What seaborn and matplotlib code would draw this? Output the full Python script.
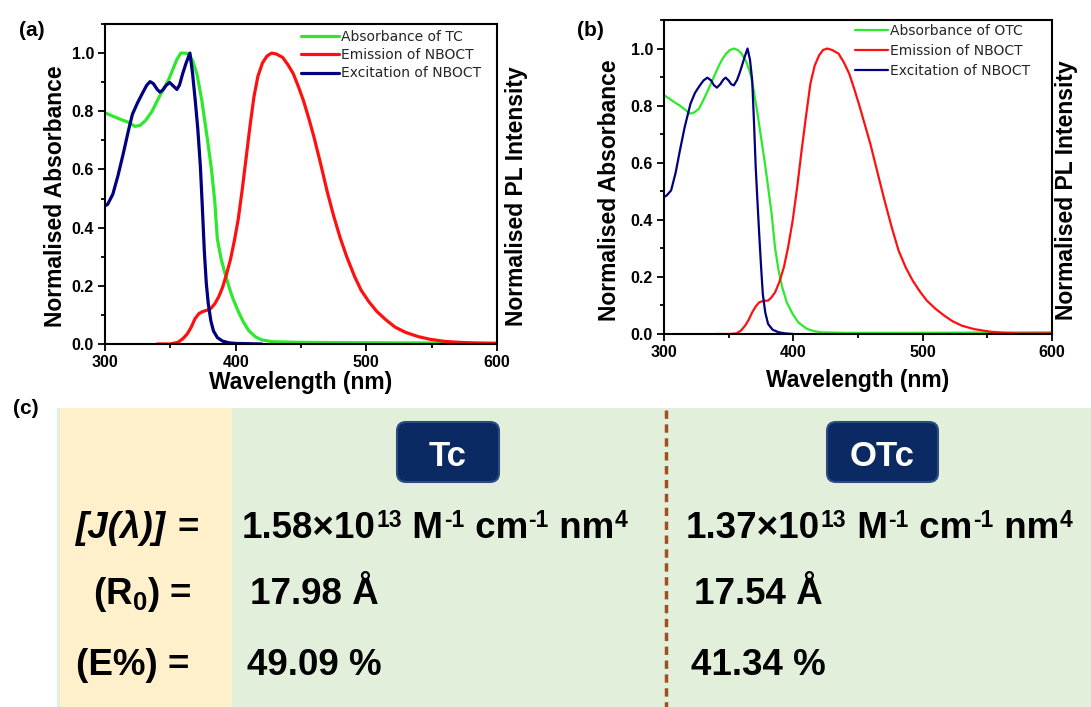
import matplotlib
matplotlib.use("Agg")
import matplotlib.pyplot as plt
import seaborn as sns
import pandas as pd
from matplotlib.patches import Rectangle, FancyBboxPatch
from matplotlib.ticker import MultipleLocator, FormatStrFormatter

# ---------------- data: panel (a) ----------------
a_abs_x = [300, 305, 312, 318, 323, 327, 331, 336, 341, 345, 349, 352, 355, 358, 361, 364, 367,
           370.5, 374, 378.5, 381.5, 384, 386, 389, 392, 395, 398, 402, 406, 410, 415, 420, 428,
           444, 470, 520, 600]
a_abs_y = [0.795, 0.785, 0.772, 0.762, 0.748, 0.752, 0.768, 0.80, 0.845, 0.878, 0.912, 0.945,
           0.978, 1.0, 1.0, 0.997, 0.975, 0.925, 0.84, 0.70, 0.60, 0.49, 0.36, 0.29, 0.24, 0.195,
           0.155, 0.112, 0.075, 0.046, 0.025, 0.014, 0.008, 0.006, 0.005, 0.004, 0.003]

a_ex_x = [300, 302, 306, 310, 314, 318, 321, 325, 329, 332, 334.5, 337, 340, 342, 344, 347,
          349.5, 352, 355, 357, 359.5, 362, 365, 367, 369, 371, 373, 374.5, 376, 377.5, 379, 381,
          383, 386, 390, 395, 400, 410, 420]
a_ex_y = [0.475, 0.48, 0.515, 0.58, 0.655, 0.735, 0.79, 0.83, 0.865, 0.89, 0.902, 0.895, 0.875,
          0.866, 0.872, 0.89, 0.899, 0.888, 0.875, 0.89, 0.93, 0.965, 1.0, 0.93, 0.84, 0.74, 0.61,
          0.47, 0.32, 0.21, 0.14, 0.08, 0.045, 0.022, 0.01, 0.004, 0.002, 0.001, 0.0]

a_em_x = [340, 350, 356, 360, 363, 366, 369, 372, 375, 378, 381, 384, 387, 390, 393, 396, 399,
          402, 405, 408, 411, 414, 417, 420.5, 424, 427.5, 431, 436, 440, 444, 448, 452, 456, 460,
          465, 470, 475, 480, 485, 491, 496, 502, 508, 515, 522, 530, 540, 549, 560, 570, 585, 600]
a_em_y = [0.0, 0.0, 0.006, 0.02, 0.035, 0.058, 0.088, 0.105, 0.112, 0.116, 0.122, 0.138, 0.162,
          0.195, 0.24, 0.29, 0.355, 0.43, 0.53, 0.64, 0.75, 0.85, 0.92, 0.966, 0.99, 1.0, 0.997,
          0.985, 0.96, 0.93, 0.885, 0.835, 0.775, 0.71, 0.62, 0.525, 0.44, 0.365, 0.30, 0.232,
          0.185, 0.145, 0.112, 0.083, 0.058, 0.040, 0.025, 0.016, 0.009, 0.006, 0.003, 0.002]

# ---------------- data: panel (b) ----------------
b_abs_x = [300, 304, 308, 312, 316, 320, 323, 327, 330.5, 334, 338, 342, 345, 348, 351, 354, 357,
           360, 363.5, 366.8, 369.5, 372.3, 375, 377.7, 380.5, 383.2, 385.9, 388.5, 391.4, 395,
           399.5, 404, 410.5, 416, 421, 440, 480, 540, 600]
b_abs_y = [0.836, 0.825, 0.812, 0.801, 0.787, 0.772, 0.775, 0.789, 0.82, 0.854, 0.895, 0.936,
           0.962, 0.982, 0.995, 1.0, 0.995, 0.982, 0.955, 0.912, 0.85, 0.772, 0.69, 0.608, 0.515,
           0.421, 0.30, 0.225, 0.164, 0.11, 0.07, 0.04, 0.018, 0.01, 0.006, 0.004, 0.004, 0.005,
           0.006]

b_ex_x = [300, 302, 305.5, 309, 312.3, 316, 320.5, 324, 327.3, 330.5, 333.5, 336.5, 338.5, 340.9,
          343.5, 346, 347.7, 350, 352, 354, 356.5, 358.5, 360, 362.3, 364.6, 366.5, 368.2, 369.6,
          370.9, 372.2, 373.6, 375, 376.4, 378.3, 380.5, 384, 388.6, 394, 400]
b_ex_y = [0.48, 0.485, 0.503, 0.565, 0.643, 0.725, 0.807, 0.845, 0.868, 0.888, 0.898, 0.888,
          0.872, 0.863, 0.875, 0.892, 0.898, 0.888, 0.875, 0.871, 0.89, 0.915, 0.936, 0.97, 1.0,
          0.96, 0.889, 0.74, 0.585, 0.47, 0.351, 0.24, 0.14, 0.075, 0.035, 0.015, 0.006, 0.002,
          0.0]

b_em_x = [340, 350, 356, 359.5, 362.7, 365.5, 368.2, 371, 373.6, 377, 380.5, 383, 385.9, 389,
          392.7, 396, 399.5, 403, 406.4, 410, 413.2, 416.5, 420, 423, 426.3, 430, 435, 439, 443.2,
          447, 451.4, 455.5, 459.5, 465, 470.5, 476, 481.4, 487, 492.3, 498, 503.2, 510, 516.8,
          523, 530.4, 540, 552.3, 563, 574, 600]
b_em_y = [0.0, 0.0, 0.002, 0.012, 0.029, 0.05, 0.076, 0.097, 0.111, 0.116, 0.117, 0.128, 0.146,
          0.18, 0.234, 0.305, 0.398, 0.515, 0.643, 0.77, 0.877, 0.94, 0.977, 0.995, 1.0, 0.995,
          0.982, 0.952, 0.912, 0.86, 0.795, 0.73, 0.667, 0.567, 0.468, 0.375, 0.292, 0.232, 0.187,
          0.148, 0.117, 0.088, 0.064, 0.045, 0.029, 0.017, 0.008, 0.004, 0.002, 0.002]

a_labels = ["Absorbance of TC", "Emission of NBOCT", "Excitation of NBOCT"]
b_labels = ["Absorbance of OTC", "Emission of NBOCT", "Excitation of NBOCT"]

# ---------------- data: table (c) ----------------
table_heads = ["Tc", "OTc"]
row_labels = ["[J(λ)]", "(R$_0$) =", "(E%) ="]
j_mantissa = ["1.58", "1.37"]
j_exponent = ["13", "13"]
j_units = [(" M", "-1"), (" cm", "-1"), (" nm", "4")]
r_values = ["17.98 Å", "17.54 Å"]
e_values = ["49.09 %", "41.34 %"]

# ---------------- style ----------------
sns.set_theme(style="ticks")
plt.rcParams['font.family'] = ['Liberation Sans', 'DejaVu Sans']
plt.rcParams['font.weight'] = 'bold'
plt.rcParams['mathtext.default'] = 'regular'

W, H = 1091, 707
fig = plt.figure(figsize=(W / 100, H / 100), dpi=100)
fig.patch.set_facecolor('white')


def px_axes(l, t, r, b, **kw):
    return fig.add_axes([l / W, 1 - b / H, (r - l) / W, (b - t) / H], **kw)


C_ABS, C_EM, C_EX = '#2EE82E', '#FF1010', '#000080'


def draw_panel(ax, xs, ys, labels, lw, anchor, hlen, lspace):
    for x, y, lab, c in zip(xs, ys, labels, [C_ABS, C_EM, C_EX]):
        df = pd.DataFrame({'Wavelength': x, 'Intensity': y})
        sns.lineplot(data=df, x='Wavelength', y='Intensity', ax=ax, color=c, lw=lw,
                     label=lab, estimator=None, sort=False)
    ax.set_xlim(300, 600)
    ax.set_ylim(0, 1.1)
    ax.xaxis.set_major_locator(MultipleLocator(100))
    ax.xaxis.set_minor_locator(MultipleLocator(50))
    ax.yaxis.set_major_locator(MultipleLocator(0.2))
    ax.yaxis.set_minor_locator(MultipleLocator(0.1))
    ax.yaxis.set_major_formatter(FormatStrFormatter('%.1f'))
    ax.set_xlabel('')
    ax.set_ylabel('')
    for s in ax.spines.values():
        s.set_visible(True)
        s.set_linewidth(1.5)
        s.set_color('black')
    ax.tick_params(which='both', direction='out', top=False, right=False, width=1.3,
                   colors='black', labelsize=11.5, pad=3)
    ax.tick_params(which='major', length=5)
    ax.tick_params(which='minor', length=3)
    leg = ax.legend(loc='upper left', bbox_to_anchor=anchor, frameon=False,
                    prop={'family': 'DejaVu Sans', 'weight': 'normal', 'size': 10},
                    handlelength=hlen, handletextpad=0.1, labelspacing=lspace,
                    borderpad=0, borderaxespad=0)
    for line in leg.get_lines():
        line.set_linewidth(lw)


ax_a = px_axes(105, 24, 497, 344)
draw_panel(ax_a, [a_abs_x, a_em_x, a_ex_x], [a_abs_y, a_em_y, a_ex_y],
           a_labels, 2.3, (0.50, 0.982), 2.75, 0.31)

ax_b = px_axes(664, 20, 1052, 334)
draw_panel(ax_b, [b_abs_x, b_em_x, b_ex_x], [b_abs_y, b_em_y, b_ex_y],
           b_labels, 1.6, (0.492, 0.988), 2.4, 0.45)

# axis labels / panel letters (figure pixel positions)
def ftext(x, y, s, **kw):
    fig.text(x / W, 1 - y / H, s, **kw)

lab_kw = dict(fontsize=16.5, fontweight='bold', ha='center', va='center', color='black')
ftext(301, 382, "Wavelength (nm)", **lab_kw)
ftext(858, 380, "Wavelength (nm)", **lab_kw)
ftext(56, 196, "Normalised Absorbance", rotation=90, **lab_kw)
ftext(516, 196, "Normalised PL Intensity", rotation=90, **lab_kw)
ftext(609, 190, "Normalised Absorbance", rotation=90, **lab_kw)
ftext(1067, 190, "Normalised PL Intensity", rotation=90, **lab_kw)

pl_kw = dict(fontsize=15, fontweight='bold', ha='center', va='center', color='black')
ftext(32, 31, "(a)", **pl_kw)
ftext(590, 31, "(b)", **pl_kw)
ftext(26, 409, "(c)", **pl_kw)

# ---------------- table (c) ----------------
tab = fig.add_axes([0, 0, 1, 1], zorder=-5)
tab.set_xlim(0, W)
tab.set_ylim(H, 0)
tab.axis('off')
tab.add_patch(Rectangle((57, 408), W - 57, H - 408, fc='#E2EFDA', ec='none'))
tab.add_patch(Rectangle((60, 408), 232 - 60, H - 408, fc='#FFF0CC', ec='none'))
tab.plot([666, 666], [410, H], color='#A0501E', lw=2.5, ls=(0, (2.4, 1.6)),
         solid_capstyle='butt')

rad = 9
for (x0, x1), head in zip([(397, 499), (827, 938)], table_heads):
    tab.add_patch(FancyBboxPatch((x0 + rad, 422 + rad), x1 - x0 - 2 * rad, 60 - 2 * rad,
                                 boxstyle=f"round,pad={rad}", fc='#0B2A63', ec='#2C4C84', lw=1.5))
    tab.text((x0 + x1) / 2, 466, head, color='white', fontsize=25, fontweight='bold',
             ha='center', va='baseline')

FS = 26.5
tk = dict(fontsize=FS, fontweight='bold', color='black', va='baseline')
renderer = fig.canvas.get_renderer()


def put(x, y, s, size=FS, **kw):
    t = tab.text(x, y, s, fontsize=size, fontweight='bold', color='black',
                 va='baseline', ha='left', **kw)
    return x + t.get_window_extent(renderer).width


# row labels
tab.text(166, 538, row_labels[0], ha='right', style='italic', **tk)
tab.text(199, 538, "=", ha='right', **tk)
tab.text(192, 604, row_labels[1], ha='right', **tk)
tab.text(189, 675, row_labels[2], ha='right', **tk)

SUP, RAISE = 16.5, 11
for xj, xr, mant, expo, r, e in zip([242, 686], [250, 694], j_mantissa, j_exponent,
                                    r_values, e_values):
    x = put(xj, 538, mant + "×10")
    x = put(x + 0.5, 538 - RAISE, expo, SUP)
    for unit, power in j_units:
        x = put(x + 0.5, 538, unit)
        x = put(x + 0.5, 538 - RAISE, power, SUP)
    put(xr, 604, r)
    put(xr - 3, 675, e)

fig.savefig("out.png", dpi=100, facecolor='white')
